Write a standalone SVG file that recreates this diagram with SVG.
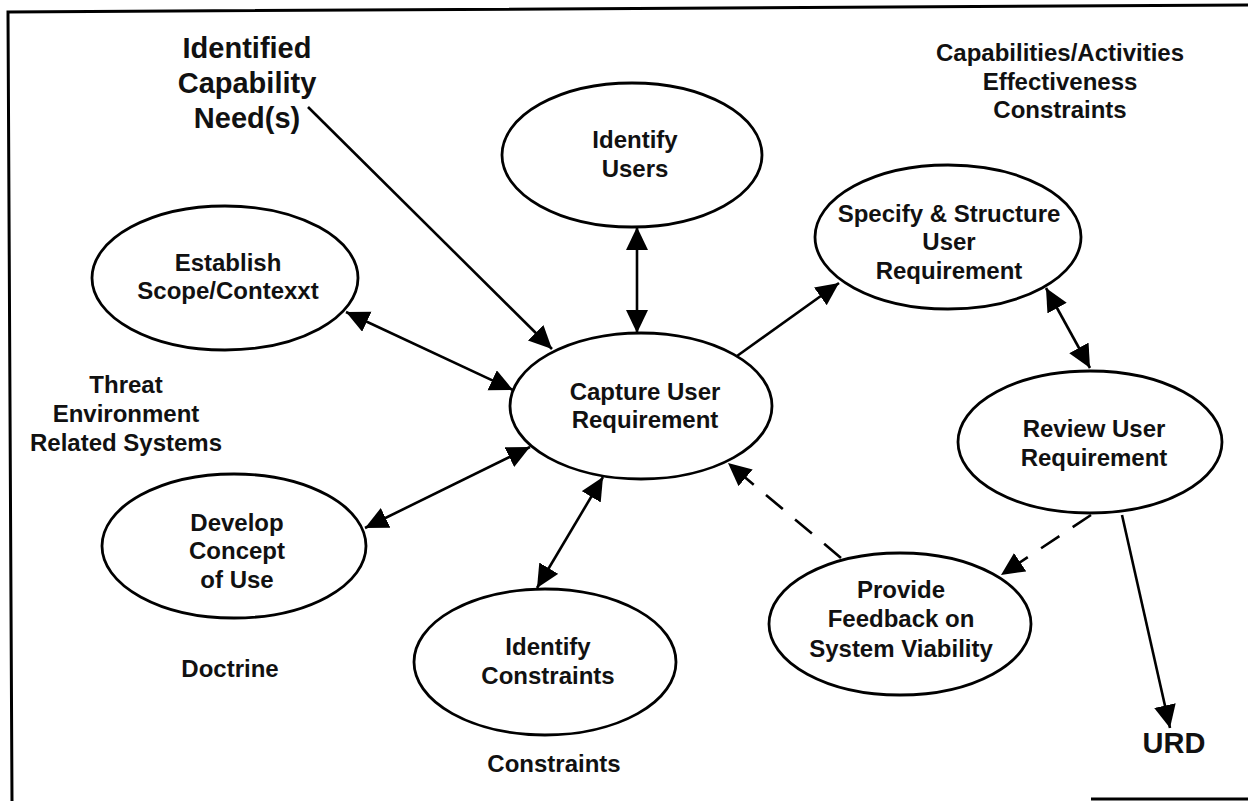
<svg xmlns="http://www.w3.org/2000/svg" width="1248" height="801" viewBox="0 0 1248 801">
<style>
.bg{fill:#fff}
.frame{fill:none;stroke:#000;stroke-width:3}
.node ellipse{fill:#fff;stroke:#000;stroke-width:2.8}
text{font-family:"Liberation Sans",Arial,Helvetica,sans-serif;font-weight:bold;fill:#111;text-anchor:middle}
.t{font-size:24px}
.big{font-size:29px}
.edge{fill:none;stroke:#000;stroke-width:2.6}
.dash{stroke-dasharray:22 16}
</style>
<defs>
<marker id="ah" markerUnits="userSpaceOnUse" markerWidth="26" markerHeight="24" refX="23" refY="11" orient="auto-start-reverse">
<path d="M0,0 L23,11 L0,22 z" fill="#000"/>
</marker>
</defs>
<rect class="bg" x="0" y="0" width="1248" height="801"/>
<g id="frame">
<path class="frame" d="M1248,5 L8,12 L12,801"/>
<path class="frame" d="M1091,799 L1248,799"/>
</g>
<g id="connectors">
<line class="edge" x1="308" y1="107" x2="552" y2="349" marker-end="url(#ah)"/>
<line class="edge" x1="346" y1="312" x2="513" y2="390" marker-start="url(#ah)" marker-end="url(#ah)"/>
<line class="edge" x1="365" y1="528" x2="530" y2="447" marker-start="url(#ah)" marker-end="url(#ah)"/>
<line class="edge" x1="637" y1="227" x2="637" y2="333" marker-start="url(#ah)" marker-end="url(#ah)"/>
<line class="edge" x1="737" y1="356" x2="839" y2="283" marker-end="url(#ah)"/>
<line class="edge" x1="1046" y1="288" x2="1090" y2="368" marker-start="url(#ah)" marker-end="url(#ah)"/>
<line class="edge" x1="603" y1="477" x2="537" y2="588" marker-start="url(#ah)" marker-end="url(#ah)"/>
<line class="edge dash" x1="841" y1="558" x2="728" y2="463" marker-end="url(#ah)"/>
<line class="edge dash" x1="1091" y1="515" x2="1001" y2="575" marker-end="url(#ah)"/>
<line class="edge" x1="1122" y1="515" x2="1170" y2="728" marker-end="url(#ah)"/>
</g>
<g id="identify-users" class="node">
<ellipse cx="632" cy="155" rx="130" ry="72"/>
<text class="t" x="635" y="148">Identify</text>
<text class="t" x="635" y="177">Users</text>
</g>
<g id="establish-scope" class="node">
<ellipse cx="225" cy="278" rx="133" ry="72"/>
<text class="t" x="228" y="271">Establish</text>
<text class="t" x="228" y="299">Scope/Contexxt</text>
</g>
<g id="specify-structure" class="node">
<ellipse cx="948" cy="237" rx="133" ry="72"/>
<text class="t" x="949" y="222">Specify &amp; Structure</text>
<text class="t" x="949" y="250">User</text>
<text class="t" x="949" y="279">Requirement</text>
</g>
<g id="capture" class="node">
<ellipse cx="641" cy="406" rx="131" ry="73"/>
<text class="t" x="645" y="400">Capture User</text>
<text class="t" x="645" y="428">Requirement</text>
</g>
<g id="review" class="node">
<ellipse cx="1090" cy="442" rx="132" ry="71"/>
<text class="t" x="1094" y="437">Review User</text>
<text class="t" x="1094" y="466">Requirement</text>
</g>
<g id="develop-concept" class="node">
<ellipse cx="234" cy="546" rx="132" ry="72"/>
<text class="t" x="237" y="531">Develop</text>
<text class="t" x="237" y="559">Concept</text>
<text class="t" x="237" y="588">of Use</text>
</g>
<g id="identify-constraints" class="node">
<ellipse cx="545" cy="662" rx="131" ry="73"/>
<text class="t" x="548" y="655">Identify</text>
<text class="t" x="548" y="684">Constraints</text>
</g>
<g id="provide-feedback" class="node">
<ellipse cx="900" cy="624" rx="131" ry="71"/>
<text class="t" x="901" y="598">Provide</text>
<text class="t" x="901" y="627">Feedback on</text>
<text class="t" x="901" y="657">System Viability</text>
</g>
<g id="labels">
<text class="big" x="247" y="58">Identified</text>
<text class="big" x="247" y="93">Capability</text>
<text class="big" x="247" y="128">Need(s)</text>
<text class="t" x="1060" y="61">Capabilities/Activities</text>
<text class="t" x="1060" y="90">Effectiveness</text>
<text class="t" x="1060" y="118">Constraints</text>
<text class="t" x="126" y="393">Threat</text>
<text class="t" x="126" y="422">Environment</text>
<text class="t" x="126" y="451">Related Systems</text>
<text class="t" x="230" y="677">Doctrine</text>
<text class="t" x="554" y="772">Constraints</text>
<text class="big" x="1174" y="753">URD</text>
</g>
</svg>
